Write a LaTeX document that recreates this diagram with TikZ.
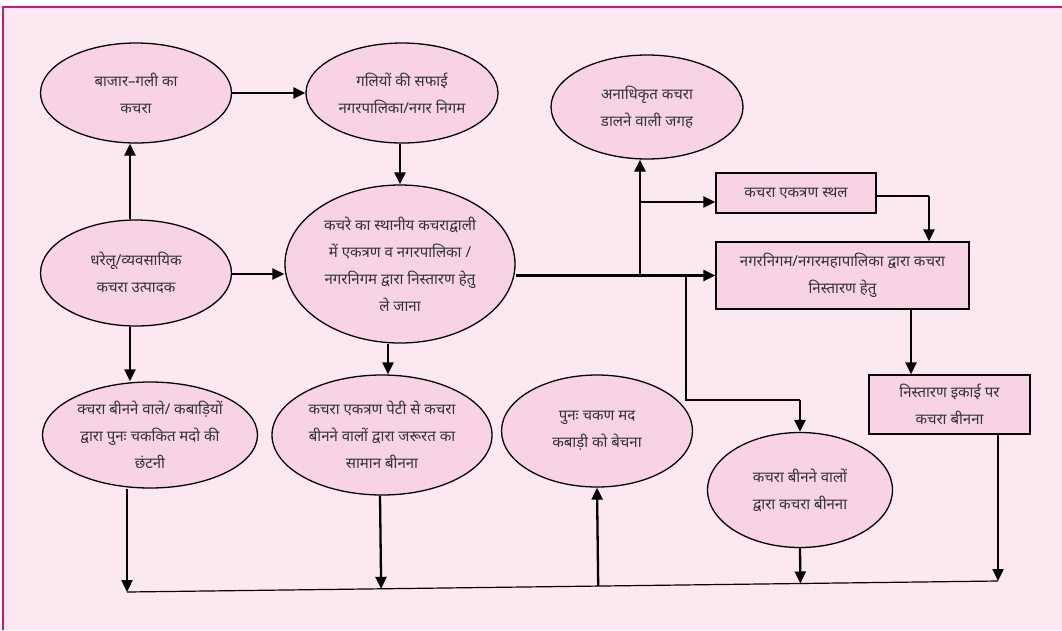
\documentclass[tikz,border=0pt]{standalone}
\usepackage{fontspec}
\newfontfamily\hindi[Script=Devanagari]{Noto Sans}
\usetikzlibrary{arrows.meta,shapes.geometric,calc}
\definecolor{bgpink}{HTML}{FCE8F1}
\definecolor{fillpink}{HTML}{F8D3E4}
\definecolor{framepink}{HTML}{D6137F}
\definecolor{txtgray}{HTML}{333333}
\tikzset{
  ell/.style={ellipse, draw=black, line width=1.3pt, fill=fillpink, inner sep=0pt},
  boxn/.style={rectangle, draw=black, line width=1.3pt, fill=fillpink, inner sep=0pt},
  lbl/.style={align=center, text=txtgray, font=\hindi\fontsize{15}{27}\selectfont, inner sep=0pt},
  arr/.style={line width=2.3pt, -{Triangle[length=12pt,width=11pt]}},
  thk/.style={line width=2.3pt},
  thn/.style={line width=1.2pt},
}
\begin{document}
\begin{tikzpicture}[x=1pt,y=-1pt]
\useasboundingbox (0,0) rectangle (1062,630);
\fill[white] (0,0) rectangle (1062,630);
\fill[bgpink] (3,7) rectangle (1062,630);
\draw[framepink, line width=1.2pt] (3,630) -- (3,7) -- (1062,7);

% ellipses
\node[ell, minimum width=191, minimum height=100] (e1) at (136,93) {};
\node[lbl] (t1) at (e1) {बाजार–गली का\\कचरा};
\node[ell, minimum width=192, minimum height=100] (e2) at (402,93) {};
\node[lbl] (t2) at (e2) {गलियों की सफाई\\नगरपालिका/नगर निगम};
\node[ell, minimum width=192, minimum height=104] (e3) at (647,107) {};
\node[lbl] (t3) at (e3) {अनाधिकृत कचरा\\डालने वाली जगह};
\node[ell, minimum width=191, minimum height=106] (e4) at (136,273) {};
\node[lbl] (t4) at (e4) {धरेलू/व्यवसायिक\\कचरा उत्पादक};
\node[ell, minimum width=230, minimum height=158] (e5) at (400,264) {};
\node[lbl] (t5) at (e5) {कचरे का स्थानीय कचराद्वाली\\में एकत्रण व नगरपालिका /\\नगरनिगम द्वारा निस्तारण हेतु\\ले जाना};
\node[ell, minimum width=215, minimum height=106] (e6) at (150,435) {};
\node[lbl] (t6) at (e6) {क्चरा बीनने वाले/ कबाड़ियों\\द्वारा पुनः चककित मदो की\\छंटनी};
\node[ell, minimum width=220, minimum height=120] (e7) at (382,435) {};
\node[lbl] (t7) at (e7) {कचरा एकत्रण पेटी से कचरा\\बीनने वालों द्वारा जरूरत का\\सामान बीनना};
\node[ell, minimum width=191, minimum height=112] (e8) at (597,431) {};
\node[lbl] (t8) at (e8) {पुनः चकण मद\\कबाड़ी को बेचना};
\node[ell, minimum width=185, minimum height=115] (e9) at (800,490) {};
\node[lbl] (t9) at (e9) {कचरा बीनने वालों\\द्वारा कचरा बीनना};

% boxes
\node[boxn, minimum width=160, minimum height=40] (b1) at (796,193) {};
\node[lbl] (tb1) at (b1) {कचरा एकत्रण स्थल};
\node[boxn, minimum width=253, minimum height=67] (b2) at (842.5,275.5) {};
\node[lbl] (tb2) at (b2) {नगरनिगम/नगरमहापालिका द्वारा कचरा\\निस्तारण हेतु};
\node[boxn, minimum width=161, minimum height=59] (b3) at (949.5,404.5) {};
\node[lbl] (tb3) at (b3) {निस्तारण इकाई पर\\कचरा बीनना};

% helper coordinates
\coordinate (j1) at (640,275.5);
\coordinate (j2) at (686,275.5);
\coordinate (j3) at (640,202);
\coordinate (k1) at (929,196);
\coordinate (k2) at (800,400);
\coordinate (k3) at (911,340);
\coordinate (bl) at (127,592);
\coordinate (br) at (998,581);

% connectors
\draw[arr] (e1.east) -- (e2.west);
\draw[arr] (e4.north -| 130,0) -- (e1.south -| 130,0);
\draw[arr] (e4.east |- 0,274) -- (e5.west |- 0,274);
\draw[arr] (e2.south -| e5.north) -- (e5.north);
\draw[arr] (e5.east |- b2.west) -- (b2.west);
\draw[arr] (j1) -- (j1 |- e3.south);
\draw[arr] (j3) -- (j3 -| b1.west);
\draw[thn] (b1.east |- k1) -- (k1);
\draw[arr] (k1) -- (k1 |- b2.north);
\draw[thn] (j2) |- (k2);
\draw[arr] (k2) -- (e9.north);
\draw[arr] (b2.south -| k3) -- (b3.north -| k3);
\draw[arr] (e4.south -| 130,0) -- (e6.north -| 130,0);
\draw[arr] (e5.south -| 388,0) -- (e7.north -| 388,0);

% bottom collector line
\draw[thn] (bl) -- (br);
\draw[arr] (e6.south -| bl) -- (bl);
\draw[arr] (e7.south -| 380,0) -- ($(bl)!(e7.south -| 380,0)!(br)$);
\draw[arr] ($(bl)!(e8.south)!(br)$) -- (e8.south);
\draw[arr] (e9.south) -- ($(bl)!(e9.south)!(br)$);
\draw[arr] (b3.south -| br) -- (br);
\end{tikzpicture}
\end{document}
